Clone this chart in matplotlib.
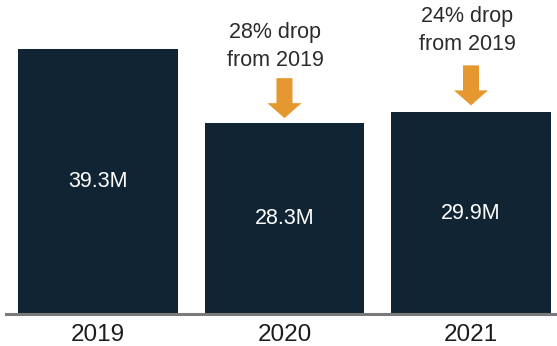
import matplotlib.pyplot as plt

plt.rcParams['font.family'] = ['Liberation Sans', 'DejaVu Sans']

years = ['2019', '2020', '2021']
visitors = [39.3, 28.3, 29.9]          # millions
value_labels = ['39.3M', '28.3M', '29.9M']
drop_notes = [None, '28% drop\nfrom 2019', '24% drop\nfrom 2019']

navy = '#112433'
orange = '#e5982f'
px = 0.72  # points per pixel at dpi 100

fig = plt.figure(figsize=(5.57, 3.46), dpi=100)
ax = fig.add_axes([0, 32 / 346, 1, 314 / 346])

x = list(range(len(years)))
ax.bar(x, visitors, width=0.855, color=navy, zorder=2)
ax.set_xlim(-0.525, 2.461)
ax.set_ylim(0, 39.3 * 314 / 265)

for xi, v, lab in zip(x, visitors, value_labels):
    ax.text(xi, v / 2, lab, color='white', fontsize=15.5, ha='center', va='center', zorder=3)

# drop callouts with arrows above the 2020 and 2021 bars
offsets = {1: (-9, 77, 5), 2: (-4, 82, 7)}
for xi, v, note in zip(x, visitors, drop_notes):
    if note is None:
        continue
    dx, dy, gap = offsets[xi]
    ax.annotate('', xy=(xi, v), xycoords='data',
                xytext=(0, (gap + 40) * px), textcoords='offset points',
                arrowprops=dict(arrowstyle='simple,head_length=%f,head_width=%f,tail_width=%f'
                                % (15 * px, 34 * px, 16 * px),
                                mutation_scale=1, color=orange, shrinkA=0, shrinkB=gap * px,
                                lw=0))
    ax.annotate(note, xy=(xi, v), xycoords='data',
                xytext=(dx * px, dy * px), textcoords='offset points',
                ha='center', va='center', fontsize=15.5, color='#2b2b2b',
                linespacing=1.45)

for s in ['top', 'right', 'left']:
    ax.spines[s].set_visible(False)
ax.spines['bottom'].set_color('#7a7a7a')
ax.spines['bottom'].set_linewidth(2.2)
ax.spines['bottom'].set_bounds(-0.493, 2.461)
ax.set_yticks([])
ax.set_xticks(x)
ax.set_xticklabels(years, fontsize=17.5, color='#1c1c1c')
ax.tick_params(axis='x', length=0, pad=7.5)

fig.savefig('out.png', dpi=100)
